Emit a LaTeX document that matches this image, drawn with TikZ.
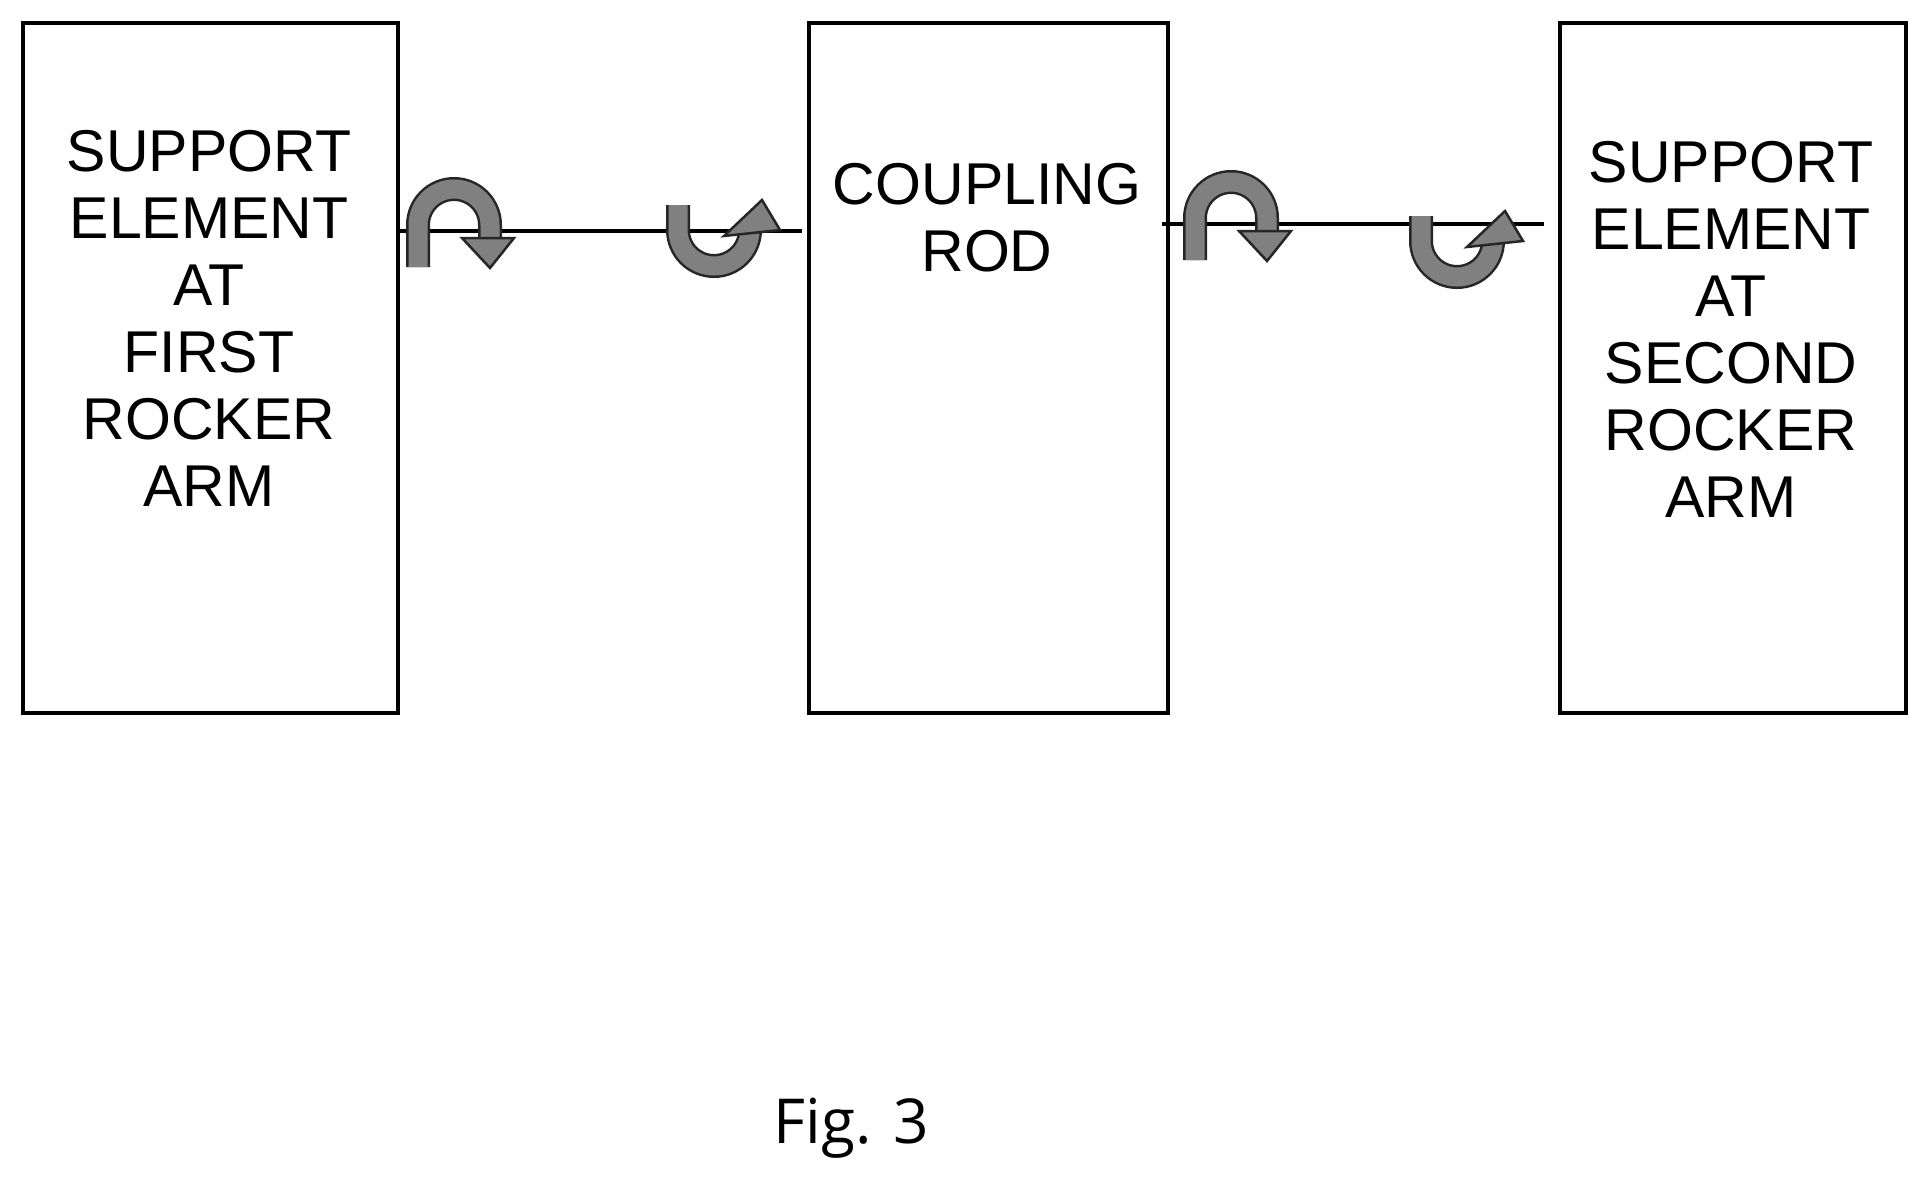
\documentclass[tikz,border=0pt]{standalone}
\usepackage{fontspec}
\setmainfont{Liberation Sans}
\newfontfamily\figfont{Open Sans}
\usetikzlibrary{positioning}

% turning arrow, going over the axis
\newcommand{\turnover}[1]{%
  \begin{scope}[shift={#1}]
    \draw[twist] (418,267) -- (418,225) arc[start angle=180,end angle=360,radius=36] -- (490,238);
    \filldraw[twisthead] (462,238) -- (514,238) -- (490,268) -- cycle;
  \end{scope}}
% turning arrow, going under the axis
\newcommand{\turnunder}[1]{%
  \begin{scope}[shift={#1}]
    \draw[twist] (678,205) -- (678,230) arc[start angle=180,end angle=0,radius=36] -- (750,232);
    \filldraw[twisthead] (724,236) -- (780,230) -- (762,200) -- cycle;
  \end{scope}}

\begin{document}
\begin{tikzpicture}[x=1pt,y=-1pt,
  block/.style={draw,line width=4pt,anchor=north west,inner sep=0pt},
  label/.style={align=center,font=\fontsize{59}{67}\selectfont},
  axis/.style={line width=4.5pt},
  twist/.style={double=black!50,double distance=19pt,line width=2.5pt,draw=black!85},
  twisthead/.style={fill=black!50,draw=black!85,line width=2.5pt,line join=miter}]
\useasboundingbox (0,0) rectangle (1924,1181);

\node[block,minimum width=375pt,minimum height=690pt] (first) at (21,21) {};
\node[block,minimum width=359pt,minimum height=690pt] (rod) at (807,21) {};
\node[block,minimum width=346pt,minimum height=690pt] (second) at (1558,21) {};

\node[label] (firstlabel) at (209,318) {SUPPORT\\ELEMENT\\AT\\FIRST\\ROCKER\\ARM};
\node[label] (rodlabel) at (987,218) {COUPLING\\ROD};
\node[label] (secondlabel) at (1731,329) {SUPPORT\\ELEMENT\\AT\\SECOND\\ROCKER\\ARM};

\coordinate (axisA) at (802,231);
\coordinate (axisB) at (1162,224);
\coordinate (axisC) at (1544,224);
\draw[axis] (first.east |- axisA) -- (axisA);
\draw[axis] (axisB) -- (axisC);

\turnover{(0,0)}
\turnunder{(0,0)}
\turnover{(777,-7)}
\turnunder{(743,11)}

\node[font=\figfont\fontsize{62}{70}\selectfont] (fig) at (851,1128) {Fig. 3};
\end{tikzpicture}
\end{document}
